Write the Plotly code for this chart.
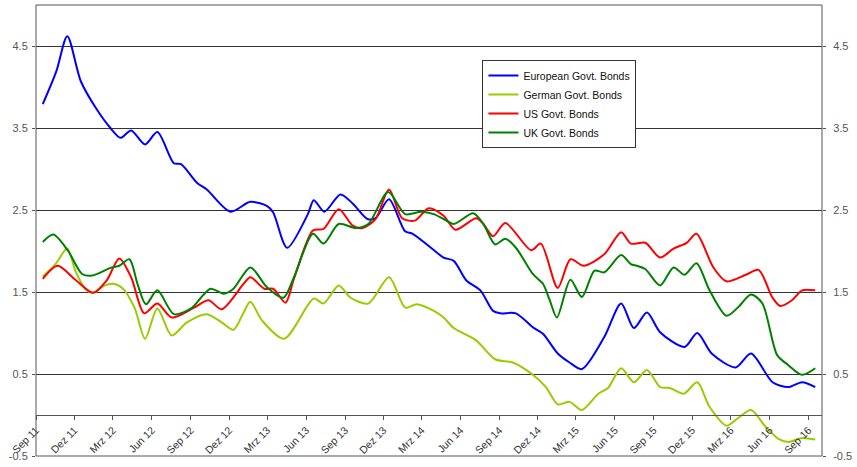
import plotly.graph_objects as go

eu_dates = ["2011-09-17","2011-10-19","2011-11-14","2011-12-16","2012-01-21","2012-02-24","2012-03-19","2012-04-13","2012-05-16","2012-06-14","2012-07-23","2012-08-09","2012-09-16","2012-10-09","2012-12-04","2013-01-20","2013-02-28","2013-03-15","2013-04-17","2013-06-05","2013-06-19","2013-07-14","2013-08-21","2013-09-19","2013-10-24","2013-11-12","2013-12-14","2014-01-21","2014-02-08","2014-03-23","2014-04-22","2014-05-16","2014-06-15","2014-07-18","2014-08-17","2014-09-03","2014-10-10","2014-11-19","2014-12-13","2015-01-17","2015-02-14","2015-03-15","2015-05-07","2015-06-16","2015-07-16","2015-08-16","2015-09-16","2015-11-13","2015-12-13","2016-01-16","2016-03-13","2016-04-18","2016-06-08","2016-07-15","2016-08-17","2016-09-17"]
eu_vals = [3.79,4.19,4.62,4.07,3.74,3.50,3.38,3.47,3.30,3.45,3.07,3.06,2.83,2.75,2.48,2.60,2.55,2.47,2.04,2.45,2.62,2.48,2.69,2.58,2.39,2.40,2.63,2.24,2.21,2.04,1.92,1.88,1.64,1.52,1.27,1.24,1.24,1.07,0.99,0.75,0.64,0.56,0.95,1.36,1.06,1.25,1.01,0.83,1.00,0.75,0.58,0.75,0.40,0.34,0.40,0.34]

de_dates = ["2011-09-17","2011-10-17","2011-11-14","2011-12-03","2011-12-26","2012-01-14","2012-02-11","2012-03-01","2012-03-23","2012-04-21","2012-05-16","2012-06-14","2012-07-18","2012-08-23","2012-10-09","2012-11-13","2012-12-11","2013-01-04","2013-01-20","2013-02-17","2013-04-10","2013-06-19","2013-07-12","2013-08-17","2013-09-14","2013-10-26","2013-12-14","2014-01-21","2014-02-17","2014-03-30","2014-04-22","2014-05-16","2014-07-08","2014-08-22","2014-10-03","2014-11-19","2014-12-20","2015-01-17","2015-02-14","2015-03-15","2015-04-23","2015-05-16","2015-06-16","2015-07-16","2015-08-16","2015-09-16","2015-10-09","2015-11-11","2015-12-13","2016-01-11","2016-02-20","2016-03-18","2016-04-18","2016-05-22","2016-06-22","2016-07-15","2016-08-17","2016-09-17"]
de_vals = [1.69,1.84,2.03,1.76,1.54,1.49,1.58,1.60,1.55,1.31,0.93,1.30,0.97,1.13,1.23,1.13,1.04,1.25,1.38,1.15,0.93,1.42,1.36,1.58,1.43,1.36,1.68,1.31,1.35,1.27,1.19,1.06,0.91,0.68,0.64,0.49,0.34,0.13,0.16,0.06,0.26,0.33,0.57,0.40,0.55,0.34,0.33,0.26,0.40,0.10,-0.13,-0.04,0.06,-0.14,-0.29,-0.33,-0.28,-0.30]

us_dates = ["2011-09-17","2011-10-22","2011-12-03","2012-01-14","2012-02-15","2012-03-16","2012-04-13","2012-05-14","2012-06-14","2012-07-18","2012-09-09","2012-10-13","2012-11-13","2013-01-04","2013-01-20","2013-02-22","2013-03-15","2013-04-13","2013-05-03","2013-06-17","2013-07-12","2013-08-17","2013-09-19","2013-10-12","2013-11-12","2013-12-14","2014-01-14","2014-02-13","2014-03-18","2014-04-22","2014-05-20","2014-07-08","2014-07-25","2014-08-17","2014-09-15","2014-11-15","2014-12-08","2015-01-17","2015-02-16","2015-03-19","2015-05-07","2015-06-16","2015-07-09","2015-08-12","2015-09-16","2015-10-18","2015-11-18","2015-12-11","2016-01-20","2016-02-20","2016-04-06","2016-05-06","2016-06-08","2016-06-26","2016-07-24","2016-08-17","2016-09-17"]
us_vals = [1.66,1.82,1.65,1.49,1.64,1.91,1.68,1.24,1.36,1.19,1.31,1.40,1.29,1.60,1.68,1.54,1.54,1.37,1.66,2.25,2.27,2.51,2.31,2.28,2.39,2.75,2.40,2.37,2.52,2.43,2.26,2.40,2.33,2.18,2.34,2.01,2.09,1.55,1.90,1.82,1.96,2.23,2.09,2.10,1.92,2.03,2.10,2.21,1.80,1.63,1.71,1.77,1.43,1.33,1.40,1.52,1.52]

uk_dates = ["2011-09-17","2011-10-12","2011-11-16","2011-12-19","2012-01-12","2012-02-27","2012-03-16","2012-04-09","2012-04-28","2012-05-18","2012-06-14","2012-07-23","2012-09-02","2012-09-25","2012-10-18","2012-11-18","2012-12-11","2013-01-20","2013-02-28","2013-04-08","2013-05-03","2013-06-17","2013-07-12","2013-08-17","2013-09-26","2013-10-26","2013-12-12","2014-01-21","2014-02-28","2014-03-30","2014-04-22","2014-05-16","2014-07-01","2014-07-25","2014-08-22","2014-09-15","2014-10-10","2014-11-19","2014-12-13","2014-12-29","2015-01-15","2015-02-16","2015-03-15","2015-04-14","2015-05-07","2015-06-16","2015-07-09","2015-07-23","2015-08-12","2015-09-16","2015-10-18","2015-11-13","2015-12-11","2016-01-11","2016-02-20","2016-03-18","2016-04-18","2016-05-15","2016-06-19","2016-07-15","2016-08-17","2016-09-17"]
uk_vals = [2.11,2.20,2.00,1.72,1.70,1.80,1.82,1.90,1.60,1.35,1.52,1.23,1.30,1.43,1.54,1.48,1.54,1.80,1.56,1.43,1.68,2.21,2.09,2.33,2.28,2.33,2.72,2.45,2.48,2.45,2.39,2.33,2.46,2.33,2.08,2.15,2.04,1.72,1.60,1.40,1.19,1.65,1.44,1.76,1.74,1.95,1.84,1.82,1.78,1.58,1.80,1.71,1.85,1.52,1.21,1.31,1.47,1.36,0.73,0.61,0.49,0.57]

series_names = ["European Govt. Bonds", "German Govt. Bonds", "US Govt. Bonds", "UK Govt. Bonds"]
series_colors = ["#0000FF", "#99CC00", "#FF0000", "#008000"]

tick_dates = ["2011-09-01","2011-12-01","2012-03-01","2012-06-01","2012-09-01","2012-12-01","2013-03-01","2013-06-01","2013-09-01","2013-12-01","2014-03-01","2014-06-01","2014-09-01","2014-12-01","2015-03-01","2015-06-01","2015-09-01","2015-12-01","2016-03-01","2016-06-01","2016-09-01"]
tick_labels = ["Sep 11","Dez 11","Mrz 12","Jun 12","Sep 12","Dez 12","Mrz 13","Jun 13","Sep 13","Dez 13","Mrz 14","Jun 14","Sep 14","Dez 14","Mrz 15","Jun 15","Sep 15","Dez 15","Mrz 16","Jun 16","Sep 16"]
y_ticks = [-0.5, 0.5, 1.5, 2.5, 3.5, 4.5]
y_labels = ["-0.5", "0.5", "1.5", "2.5", "3.5", "4.5"]

fig = go.Figure()
for d, v, n, c in zip([eu_dates, de_dates, us_dates, uk_dates],
                      [eu_vals, de_vals, us_vals, uk_vals],
                      series_names, series_colors):
    fig.add_trace(go.Scatter(x=d, y=v, name=n, mode="lines",
                             line=dict(color=c, width=2, shape="spline", smoothing=0.8)))

# invisible trace to carry right axis
fig.add_trace(go.Scatter(x=[eu_dates[0]], y=[eu_vals[0]], yaxis="y2", mode="markers",
                         marker=dict(opacity=0), showlegend=False, hoverinfo="skip"))

ymin, ymax = -0.5, 5.0
font = "Arial, Liberation Sans, sans-serif"
fig.update_layout(
    width=857, height=467,
    margin=dict(l=36, r=25, t=5, b=10),
    paper_bgcolor="white", plot_bgcolor="white",
    font=dict(family=font, size=10, color="#333"),
    showlegend=True,
    legend=dict(x=0.568, y=0.878, xanchor="left", yanchor="top",
                bgcolor="white", bordercolor="#333", borderwidth=1,
                entrywidth=134, entrywidthmode="pixels",
                font=dict(size=10.5, color="#111"), tracegroupgap=0),
    xaxis=dict(type="date", range=["2011-09-01", "2016-10-03"],
               tickvals=tick_dates, ticktext=tick_labels, tickangle=-45,
               anchor="free", position=(0 - ymin) / (ymax - ymin),
               showline=True, linecolor="#555", linewidth=1,
               ticks="outside", ticklen=4, tickcolor="#555",
               showgrid=False, zeroline=False,
               tickfont=dict(size=10.5, color="#333")),
    yaxis=dict(range=[ymin, ymax], tickvals=y_ticks, ticktext=y_labels,
               showgrid=True, gridcolor="#333", gridwidth=1,
               zeroline=False, showline=False, ticks="outside", ticklen=3,
               tickcolor="#555", ticklabelstandoff=2,
               tickfont=dict(size=11, color="#555")),
    yaxis2=dict(range=[ymin, ymax], tickvals=y_ticks, ticktext=y_labels,
                overlaying="y", side="right", showgrid=False, zeroline=False,
                ticks="outside", ticklen=3, tickcolor="#555", ticklabelstandoff=5,
                tickfont=dict(size=11, color="#555")),
    shapes=[dict(type="rect", xref="paper", yref="paper", x0=0, x1=1, y0=0, y1=1,
                 line=dict(color="#555", width=1), layer="above")],
)

fig.write_html("out.html")
